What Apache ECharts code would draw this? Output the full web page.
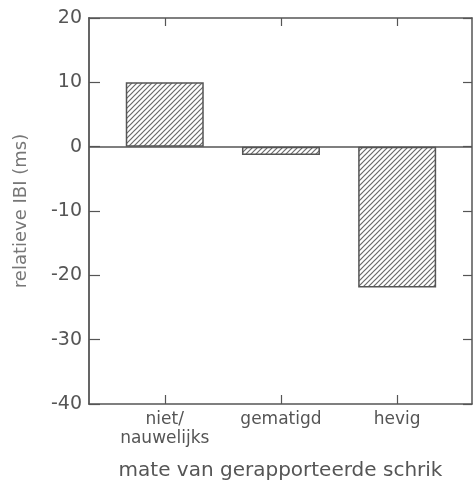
<!DOCTYPE html>
<html>
<head>
<meta charset="utf-8">
<script src="https://cdn.jsdelivr.net/npm/echarts@6/dist/echarts.min.js"></script>
<style>
html,body{margin:0;padding:0;background:#fff;}
#c{width:474px;height:489px;}
</style>
</head>
<body>
<div id="c"></div>
<script>
const categories = ['niet/\nnauwelijks', 'gematigd', 'hevig'];
const positions = [1, 2, 3];
const values = [10, -1.3, -21.9];
const yMin = -40, yMax = 20, yStep = 10;
const xTitle = 'mate van gerapporteerde schrik';
const yTitle = 'relatieve IBI (ms)';

function hatch() {
  const s = 5;
  const cv = document.createElement('canvas');
  cv.width = s; cv.height = s;
  const ctx = cv.getContext('2d');
  ctx.fillStyle = '#fff';
  ctx.fillRect(0, 0, s, s);
  ctx.strokeStyle = '#6a6a6a';
  ctx.lineWidth = 1.2;
  ctx.beginPath();
  ctx.moveTo(-1, s + 1); ctx.lineTo(s + 1, -1);
  ctx.moveTo(-1, 1); ctx.lineTo(1, -1);
  ctx.moveTo(s - 1, s + 1); ctx.lineTo(s + 1, s - 1);
  ctx.stroke();
  return cv;
}

const axisCol = '#555';
const textCol = '#555';
const font = 'DejaVu Sans';

const chart = echarts.init(document.getElementById('c'), null, {renderer: 'canvas'});
chart.setOption({
  animation: false,
  grid: {left: 89, right: 2, top: 18, bottom: 85, containLabel: false},
  xAxis: [{
    type: 'value', position: 'bottom',
    min: 0.348, max: 3.644,
    name: xTitle, nameLocation: 'middle', nameGap: 57,
    nameTextStyle: {color: textCol, fontFamily: font, fontSize: 20},
    axisLine: {show: true, onZero: false, lineStyle: {color: axisCol, width: 1.5}},
    axisTick: {show: true, inside: true, length: 9, customValues: positions, lineStyle: {color: axisCol, width: 1.2}},
    axisLabel: {show: true, customValues: positions, margin: 6, color: textCol, fontFamily: font, fontSize: 17, lineHeight: 19,
      formatter: v => categories[positions.indexOf(Math.round(v))] || ''},
    splitLine: {show: false}
  }, {
    type: 'value', position: 'top',
    min: 0.348, max: 3.644,
    axisLine: {show: true, onZero: false, lineStyle: {color: axisCol, width: 1.5}},
    axisTick: {show: true, inside: true, length: 8, customValues: positions, lineStyle: {color: axisCol, width: 1.2}},
    axisLabel: {show: false},
    splitLine: {show: false}
  }],
  yAxis: [{
    type: 'value', position: 'left',
    min: yMin, max: yMax, interval: yStep,
    name: yTitle, nameLocation: 'middle', nameGap: 59,
    nameTextStyle: {color: '#777', fontFamily: font, fontSize: 18},
    axisLine: {show: true, onZero: false, lineStyle: {color: axisCol, width: 1.8}},
    axisTick: {show: true, inside: true, length: 11, lineStyle: {color: axisCol, width: 1.2}},
    axisLabel: {color: textCol, fontFamily: font, fontSize: 19, margin: 7},
    splitLine: {show: false}
  }, {
    type: 'value', position: 'right',
    min: yMin, max: yMax, interval: yStep,
    axisLine: {show: true, onZero: false, lineStyle: {color: axisCol, width: 1.5}},
    axisTick: {show: true, inside: true, length: 9, lineStyle: {color: axisCol, width: 1.2}},
    axisLabel: {show: false},
    splitLine: {show: false}
  }],
  series: [{
    type: 'bar',
    xAxisIndex: 0, yAxisIndex: 0,
    barWidth: 78,
    data: positions.map((p, i) => [p, values[i]]),
    itemStyle: {color: {image: hatch(), repeat: 'repeat'}, borderColor: '#555', borderWidth: 1.5},
    markLine: {
      silent: true, symbol: 'none',
      label: {show: false},
      lineStyle: {color: axisCol, width: 1.5, type: 'solid'},
      data: [{yAxis: 0}]
    }
  }]
});
</script>
</body>
</html>
